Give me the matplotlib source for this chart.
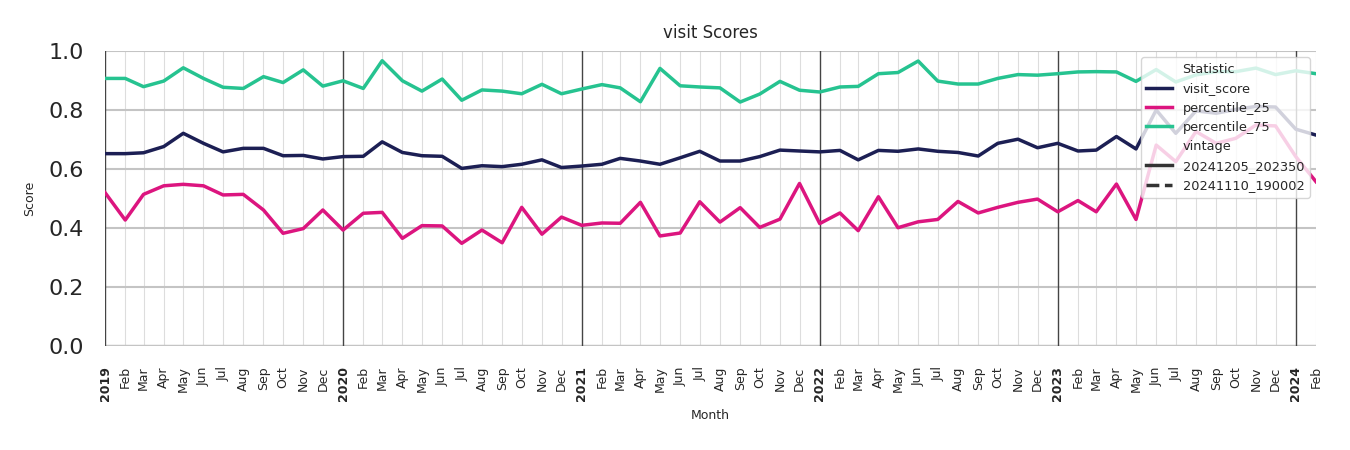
import numpy as np
import pandas as pd
import matplotlib
matplotlib.use('Agg')
from matplotlib import pyplot as plt
from matplotlib.lines import Line2D

# 月份：2019-01 至 2024-02
months = pd.date_range('2019-01-01', '2024-02-01', freq='MS')

visit_score = [0.652, 0.652, 0.655, 0.676, 0.721, 0.687, 0.658, 0.670, 0.670, 0.645, 0.646, 0.634,
               0.642, 0.643, 0.692, 0.656, 0.645, 0.643, 0.602, 0.611, 0.608, 0.616, 0.631, 0.605,
               0.610, 0.616, 0.636, 0.627, 0.616, 0.638, 0.660, 0.627, 0.627, 0.642, 0.664, 0.661,
               0.658, 0.663, 0.631, 0.663, 0.660, 0.668, 0.660, 0.656, 0.644, 0.687, 0.701, 0.672,
               0.687, 0.661, 0.664, 0.710, 0.668, 0.800, 0.721, 0.797, 0.789, 0.802, 0.812, 0.810,
               0.735, 0.715]
percentile_25 = [0.520, 0.427, 0.514, 0.543, 0.548, 0.543, 0.512, 0.514, 0.461, 0.382, 0.398, 0.461,
                 0.393, 0.450, 0.453, 0.365, 0.408, 0.407, 0.348, 0.393, 0.350, 0.470, 0.379, 0.437,
                 0.409, 0.417, 0.416, 0.487, 0.373, 0.383, 0.489, 0.420, 0.469, 0.402, 0.430, 0.551,
                 0.415, 0.451, 0.391, 0.506, 0.401, 0.421, 0.429, 0.490, 0.451, 0.470, 0.487, 0.498,
                 0.455, 0.493, 0.455, 0.549, 0.429, 0.681, 0.625, 0.727, 0.687, 0.704, 0.749, 0.746,
                 0.642, 0.557]
percentile_75 = [0.907, 0.907, 0.879, 0.898, 0.943, 0.907, 0.877, 0.873, 0.913, 0.893, 0.936, 0.881,
                 0.899, 0.873, 0.967, 0.899, 0.864, 0.905, 0.833, 0.868, 0.864, 0.855, 0.887, 0.855,
                 0.871, 0.886, 0.875, 0.828, 0.941, 0.882, 0.878, 0.875, 0.827, 0.854, 0.897, 0.867,
                 0.861, 0.878, 0.880, 0.923, 0.927, 0.966, 0.898, 0.888, 0.888, 0.907, 0.920, 0.918,
                 0.923, 0.929, 0.930, 0.929, 0.897, 0.937, 0.895, 0.919, 0.930, 0.930, 0.942, 0.920,
                 0.933, 0.923]

stats = {'visit_score': (visit_score, '#1c1f54'),
         'percentile_25': (percentile_25, '#dc157f'),
         'percentile_75': (percentile_75, '#26c390')}

fig = plt.figure(figsize=(13.5, 4.5), dpi=100)
ax = fig.add_axes([0.0778, 0.2311, 0.8970, 0.6556])

for name, (vals, col) in stats.items():
    ax.plot(months, vals, color=col, lw=2.5, label=name, zorder=3)

# 网格：每月浅色竖线，年份深色竖线
for m in months:
    if m.month == 1:
        ax.axvline(m, color='#444444', lw=1.0, zorder=2)
    else:
        ax.axvline(m, color='#dddddd', lw=0.8, zorder=1)
for y in np.arange(0, 1.01, 0.2):
    ax.axhline(y, color='#c4c4c4', lw=1.5 if y > 0 else 2.5, zorder=1)

ax.set_xlim(months[0], months[-1])
ax.set_ylim(0, 1.0)
ax.set_xticks(months)
labels = [str(m.year) if m.month == 1 else m.strftime('%b') for m in months]
ax.set_xticklabels(labels, rotation=90, fontsize=9, color='#262626')
for lab, m in zip(ax.get_xticklabels(), months):
    if m.month == 1:
        lab.set_fontweight('bold')
ax.set_yticks(np.arange(0, 1.01, 0.2))
ax.set_yticklabels(['%.1f' % v for v in np.arange(0, 1.01, 0.2)], fontsize=16, color='#262626')
ax.tick_params(axis='x', length=0, pad=14.5)
ax.tick_params(axis='y', length=0, pad=15.5)
for s in ax.spines.values():
    s.set_visible(False)

ax.set_title('visit Scores', fontsize=12, color='#262626', pad=9)
ax.set_xlabel('Month', fontsize=9, color='#262626', labelpad=6)
ax.set_ylabel('Score', fontsize=9, color='#262626', labelpad=8.5)

blank = Line2D([], [], color='none')
handles = [blank] + [Line2D([], [], color=c, lw=2.5) for _, c in stats.values()] + \
          [blank, Line2D([], [], color='#333333', lw=2.5),
           Line2D([], [], color='#333333', lw=2.5, ls='--')]
names = ['Statistic'] + list(stats.keys()) + ['vintage', '20241205_202350', '20241110_190002']
leg = ax.legend(handles, names, loc='upper right', fontsize=9.3,
                framealpha=0.8, edgecolor='#cccccc', handlelength=2.0, borderpad=0.4,
                labelspacing=0.5, handletextpad=0.8)
for t in leg.get_texts():
    t.set_color('#262626')
leg.set_zorder(5)

fig.savefig('out.png')
